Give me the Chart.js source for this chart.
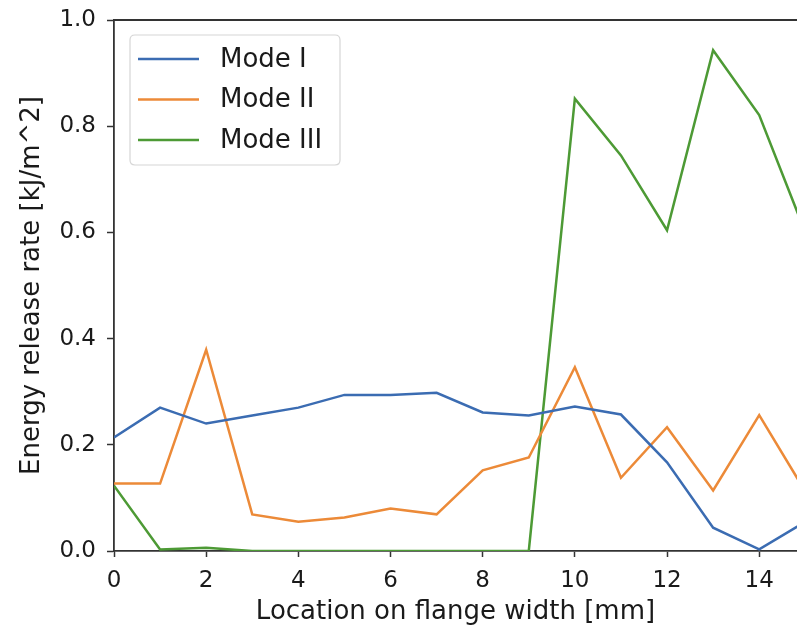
<!DOCTYPE html>
<html>
<head>
<meta charset="utf-8">
<script src="https://cdn.jsdelivr.net/npm/chart.js@4"></script>
<style>
html,body{margin:0;padding:0;background:#fff;}
#wrap{width:797px;height:627px;position:relative;}
</style>
</head>
<body>
<div id="wrap"><canvas id="c" width="797" height="627"></canvas></div>
<script>
const positions = [0,1,2,3,4,5,6,7,8,9,10,11,12,13,14,15];
const modeI   = [0.214,0.270,0.240,0.255,0.270,0.294,0.294,0.298,0.261,0.255,0.272,0.257,0.167,0.044,0.003,0.055];
const modeII  = [0.127,0.127,0.379,0.069,0.055,0.063,0.080,0.069,0.152,0.176,0.346,0.138,0.233,0.114,0.256,0.112];
const modeIII = [0.123,0.003,0.006,0.0,0.0,0.0,0.0,0.0,0.0,0.0,0.852,0.745,0.604,0.943,0.821,0.600];
const seriesNames = ['Mode I','Mode II','Mode III'];
const yTicks = [0.0,0.2,0.4,0.6,0.8,1.0];
const xTicks = [0,2,4,6,8,10,12,14];

const colors = ['#3b6cb2','#ec8a38','#4d9a35'];
const toXY = arr => arr.map((v,i)=>({x:positions[i], y:v}));

const legendPlugin = {
  id:'innerLegend',
  afterDraw(chart){
    const ctx = chart.ctx;
    const a = chart.chartArea;
    // top spine
    ctx.save();
    ctx.strokeStyle = '#333';
    ctx.lineWidth = 1.8;
    ctx.beginPath();
    ctx.moveTo(a.left, a.top);
    ctx.lineTo(a.right, a.top);
    ctx.stroke();
    // legend box
    const bx = a.left + 16, by = a.top + 15, bw = 210, bh = 130, r = 5;
    ctx.fillStyle = 'rgba(255,255,255,0.85)';
    ctx.strokeStyle = '#d6d6d6';
    ctx.lineWidth = 1.2;
    ctx.beginPath();
    ctx.moveTo(bx+r,by);
    ctx.lineTo(bx+bw-r,by); ctx.quadraticCurveTo(bx+bw,by,bx+bw,by+r);
    ctx.lineTo(bx+bw,by+bh-r); ctx.quadraticCurveTo(bx+bw,by+bh,bx+bw-r,by+bh);
    ctx.lineTo(bx+r,by+bh); ctx.quadraticCurveTo(bx,by+bh,bx,by+bh-r);
    ctx.lineTo(bx,by+r); ctx.quadraticCurveTo(bx,by,bx+r,by);
    ctx.closePath();
    ctx.fill(); ctx.stroke();
    ctx.font = '26px "DejaVu Sans"';
    ctx.textBaseline = 'middle';
    chart.data.datasets.forEach((ds,i)=>{
      const yy = by + 24 + i*40.5;
      ctx.strokeStyle = ds.borderColor;
      ctx.lineWidth = 2.6;
      ctx.beginPath();
      ctx.moveTo(bx+8, yy);
      ctx.lineTo(bx+69, yy);
      ctx.stroke();
      ctx.fillStyle = '#1a1a1a';
      ctx.fillText(ds.label, bx+90, yy+1);
    });
    ctx.restore();
  }
};

new Chart(document.getElementById('c'), {
  type:'line',
  data:{
    datasets:[
      {label:seriesNames[0], data:toXY(modeI),  borderColor:colors[0]},
      {label:seriesNames[1], data:toXY(modeII), borderColor:colors[1]},
      {label:seriesNames[2], data:toXY(modeIII),borderColor:colors[2]}
    ].map(d=>Object.assign(d,{borderWidth:2.5,pointRadius:0,tension:0,fill:false}))
  },
  options:{
    responsive:false,
    animation:false,
    layout:{padding:{top:20,right:0,left:0,bottom:0}},
    plugins:{legend:{display:false},tooltip:{enabled:false},innerLegend:{}},
    scales:{
      x:{
        type:'linear',
        min:0, max:14.82,
        afterBuildTicks(s){ s.ticks = xTicks.map(v=>({value:v})); },
        afterFit(s){ s.height = 76; s.paddingLeft = 0; s.paddingRight = 0; },
        ticks:{font:{family:'DejaVu Sans',size:23},color:'#1a1a1a',padding:10,maxRotation:0,callback:v=>String(v)},
        grid:{drawOnChartArea:false,drawTicks:true,tickLength:6,tickColor:'#333',tickWidth:1.5},
        border:{display:true,color:'#333',width:1.8},
        title:{display:true,text:'Location on flange width [mm]',font:{family:'DejaVu Sans',size:26,lineHeight:1.1},color:'#1a1a1a',padding:{top:0,bottom:0}}
      },
      y:{
        type:'linear',
        min:0, max:1.0,
        afterBuildTicks(s){ s.ticks = yTicks.map(v=>({value:v})); },
        afterFit(s){ s.width = 114; s.paddingTop = 0; s.paddingBottom = 0; },
        ticks:{font:{family:'DejaVu Sans',size:23},color:'#1a1a1a',padding:11,callback:v=>Number(v).toFixed(1)},
        grid:{drawOnChartArea:false,drawTicks:true,tickLength:7,tickColor:'#333',tickWidth:1.5},
        border:{display:true,color:'#333',width:1.8},
        title:{display:true,text:'Energy release rate [kJ/m^2]',font:{family:'DejaVu Sans',size:26,lineHeight:1.1},color:'#1a1a1a',padding:{top:18,bottom:0}}
      }
    }
  },
  plugins:[legendPlugin]
});
</script>
</body>
</html>
